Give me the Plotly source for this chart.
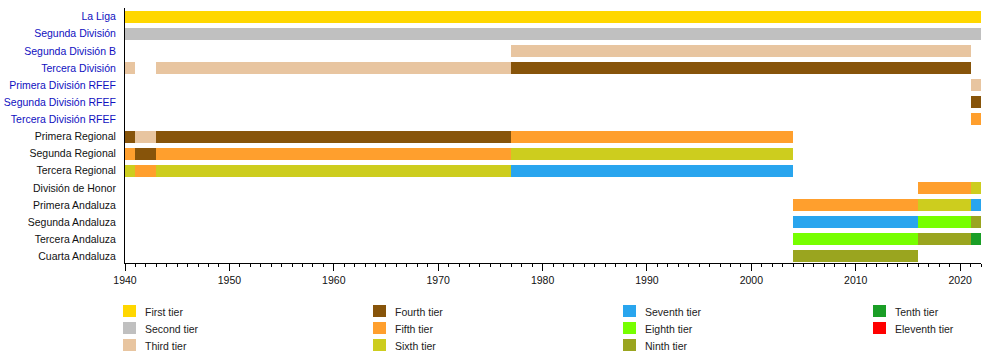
import plotly.graph_objects as go

rows = ["La Liga", "Segunda División", "Segunda División B", "Tercera División",
        "Primera División RFEF", "Segunda División RFEF", "Tercera División RFEF",
        "Primera Regional", "Segunda Regional", "Tercera Regional", "División de Honor",
        "Primera Andaluza", "Segunda Andaluza", "Tercera Andaluza", "Cuarta Andaluza"]
linked_rows = rows[:7]

tiers = ["First tier", "Second tier", "Third tier", "Fourth tier", "Fifth tier",
         "Sixth tier", "Seventh tier", "Eighth tier", "Ninth tier", "Tenth tier",
         "Eleventh tier"]
tier_colors = ["#FFD700", "#C0C0C0", "#E8C5A0", "#87540A", "#FF9F2D", "#CDCD1E",
               "#29A5EE", "#77FF00", "#9AA51F", "#1A9E26", "#FF0000"]

# segments: (row, start year, end year, tier index)
seg_row = ["La Liga", "Segunda División", "Segunda División B",
           "Tercera División", "Tercera División", "Tercera División",
           "Primera División RFEF", "Segunda División RFEF", "Tercera División RFEF",
           "Primera Regional", "Primera Regional", "Primera Regional", "Primera Regional",
           "Segunda Regional", "Segunda Regional", "Segunda Regional", "Segunda Regional",
           "Tercera Regional", "Tercera Regional", "Tercera Regional", "Tercera Regional",
           "División de Honor", "División de Honor",
           "Primera Andaluza", "Primera Andaluza", "Primera Andaluza",
           "Segunda Andaluza", "Segunda Andaluza", "Segunda Andaluza",
           "Tercera Andaluza", "Tercera Andaluza", "Tercera Andaluza",
           "Cuarta Andaluza"]
seg_start = [1940, 1940, 1977,
             1940, 1943, 1977,
             2021, 2021, 2021,
             1940, 1941, 1943, 1977,
             1940, 1941, 1943, 1977,
             1940, 1941, 1943, 1977,
             2016, 2021,
             2004, 2016, 2021,
             2004, 2016, 2021,
             2004, 2016, 2021,
             2004]
seg_end = [2022, 2022, 2021,
           1941, 1977, 2021,
           2022, 2022, 2022,
           1941, 1943, 1977, 2004,
           1941, 1943, 1977, 2004,
           1941, 1943, 1977, 2004,
           2021, 2022,
           2016, 2021, 2022,
           2016, 2021, 2022,
           2016, 2021, 2022,
           2016]
seg_tier = [0, 1, 2,
            2, 2, 3,
            2, 3, 4,
            3, 2, 3, 4,
            4, 3, 4, 5,
            5, 4, 5, 6,
            4, 5,
            4, 5, 6,
            6, 7, 8,
            7, 8, 9,
            8]

x_min, x_max = 1940, 2022

fig = go.Figure()
for t, name in enumerate(tiers):
    idx = [i for i, v in enumerate(seg_tier) if v == t]
    if not idx:
        continue
    fig.add_trace(go.Bar(
        orientation="h",
        y=[seg_row[i] for i in idx],
        base=[seg_start[i] for i in idx],
        x=[seg_end[i] - seg_start[i] for i in idx],
        marker=dict(color=tier_colors[t], line=dict(width=0)),
        width=0.7,
        name=name,
        showlegend=False,
    ))

ticktext = [f"<span style='color:#1010c0'>{r}</span>" if r in linked_rows else r for r in rows]

# plot area geometry (pixels) used for legend placement
L, R, T, B = 125, 19, 8, 89
W, H = 1000, 352
pw, ph = W - L - R, H - T - B

def px_x(px):
    return (px - L) / pw

def px_y(py):
    return (H - B - py) / ph

shapes = []
annotations = []
for t, name in enumerate(tiers):
    col, r = divmod(t, 3)
    x0 = 123 + col * 250
    yc = 311 + r * 17
    shapes.append(dict(type="rect", xref="paper", yref="paper",
                       x0=px_x(x0), x1=px_x(x0 + 13),
                       y0=px_y(yc + 6), y1=px_y(yc - 6),
                       fillcolor=tier_colors[t], line=dict(width=0)))
    annotations.append(dict(xref="paper", yref="paper", x=px_x(x0 + 20), y=px_y(yc + 1),
                            text=name, showarrow=False, xanchor="left", yanchor="middle",
                            font=dict(size=10.5, color="#222")))

fig.update_layout(
    width=W, height=H,
    margin=dict(l=L, r=R, t=T, b=B, pad=0, autoexpand=False),
    paper_bgcolor="white", plot_bgcolor="white",
    barmode="overlay", bargap=0,
    font=dict(family="Liberation Sans, Arial, sans-serif", size=10.5, color="#111"),
    shapes=shapes, annotations=annotations,
    showlegend=False,
)
fig.update_xaxes(
    range=[x_min, x_max], showgrid=False, zeroline=False, automargin=False,
    showline=True, linecolor="black", linewidth=1,
    ticks="outside", ticklen=7, tickcolor="black", tick0=1940, dtick=10,
    tickfont=dict(size=10.5, color="#111"),
    minor=dict(ticks="outside", ticklen=3, tickcolor="black", dtick=1, tick0=1940, showgrid=False),
)
fig.update_yaxes(
    type="category", categoryorder="array", categoryarray=rows, automargin=False,
    range=[14.38, -0.5], showgrid=False, zeroline=False,
    showline=True, linecolor="black", linewidth=1,
    tickmode="array", tickvals=rows, ticktext=ticktext, ticks="",
    ticklabelstandoff=6, tickfont=dict(size=10.5),
)

fig.write_html("out.html")
